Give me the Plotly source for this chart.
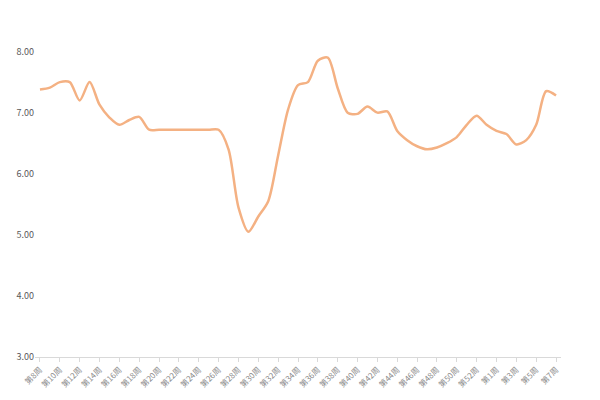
import plotly.graph_objects as go

weeks = [f"第{w}周" for w in range(8, 54)] + [f"第{w}周" for w in range(1, 8)]
prices = [7.38, 7.41, 7.5, 7.5, 7.2, 7.5, 7.13, 6.92, 6.8, 6.88, 6.93, 6.72,
          6.72, 6.72, 6.72, 6.72, 6.72, 6.72, 6.72, 6.4, 5.45, 5.05, 5.3, 5.55,
          6.3, 7.05, 7.45, 7.5, 7.85, 7.9, 7.4, 7.0, 6.98, 7.1, 7.0, 7.02,
          6.7, 6.55, 6.45, 6.4, 6.43, 6.5, 6.6, 6.8, 6.95, 6.8, 6.7, 6.65,
          6.48, 6.55, 6.8, 7.35, 7.28]
idx = list(range(len(weeks)))

fig = go.Figure(go.Scatter(x=idx, y=prices, mode="lines",
                           line=dict(color="#F4B183", width=2.5, shape="spline", smoothing=0.8)))
fig.update_layout(width=600, height=400, margin=dict(l=27, r=47, t=13, b=51),
                  paper_bgcolor="white", plot_bgcolor="white", showlegend=False,
                  font=dict(family="Noto Sans CJK SC", size=8, color="#8c8c8c"))
fig.update_xaxes(range=[-0.5, len(weeks) - 0.5], tickmode="array", tickvals=idx[::2], ticktext=weeks[::2],
                 tickangle=-45, showline=True, linecolor="#d9d9d9", ticks="outside", ticklen=4,
                 tickcolor="#d9d9d9", showgrid=False, tickfont=dict(size=8), automargin=False)
fig.update_yaxes(range=[3, 8.5], tickvals=[3, 4, 5, 6, 7, 8], tickformat=".2f", automargin=False,
                 showgrid=False, zeroline=False, showline=False, tickfont=dict(size=9, color="#595959"))
fig.write_html("out.html")
